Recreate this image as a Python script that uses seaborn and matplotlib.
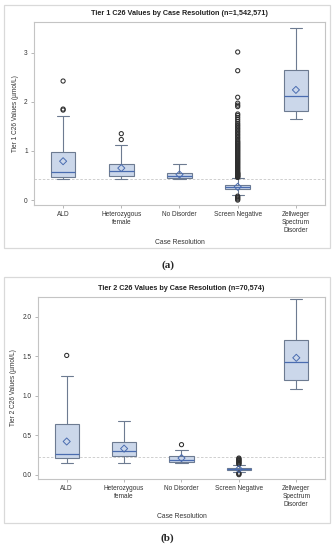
import numpy as np
import pandas as pd
import matplotlib
matplotlib.use("Agg")
import matplotlib.pyplot as plt
import seaborn as sns
from matplotlib.patches import Rectangle

# ---------------- data ----------------
categories = ["ALD", "Heterozygous female", "No Disorder", "Screen Negative",
              "Zellweger Spectrum Disorder"]
tick_labels = ["ALD", "Heterozygous\nfemale", "No Disorder", "Screen Negative",
               "Zellweger\nSpectrum\nDisorder"]

# five-number summaries: whisker low, Q1, median, Q3, whisker high
t1_ald = [0.42, 0.47, 0.57, 0.98, 1.71]
t1_het = [0.42, 0.49, 0.59, 0.74, 1.11]
t1_nod = [0.42, 0.44, 0.49, 0.56, 0.74]
t1_sn = [0.10, 0.22, 0.26, 0.30, 0.44]
t1_zsd = [1.65, 1.82, 2.12, 2.64, 3.50]
t1_means = [0.79, 0.65, 0.52, 0.27, 2.24]
t1_cutoff = 0.42

t1_out_ald = [1.83, 1.85, 2.42]
t1_out_het = [1.23, 1.35]
t1_out_sn = [0.00, 0.02, 0.04, 0.06, 0.08,
             0.46, 0.47, 0.48, 0.49, 0.50, 0.51, 0.52, 0.53, 0.54, 0.55, 0.56,
             0.58, 0.60, 0.62, 0.64, 0.66,
             0.68, 0.70, 0.72, 0.74, 0.76, 0.78, 0.80, 0.82, 0.84, 0.86, 0.88,
             0.90, 0.92, 0.94, 0.96, 0.98, 1.00, 1.02, 1.04, 1.06, 1.08, 1.10,
             1.12, 1.14, 1.16, 1.18, 1.20, 1.23, 1.26, 1.29, 1.32, 1.35, 1.38,
             1.41, 1.44, 1.47, 1.50, 1.53, 1.56, 1.60, 1.64, 1.68, 1.72, 1.75,
             1.90, 1.93, 1.97, 2.09, 2.63, 3.01]

t2_ald = [0.15, 0.21, 0.26, 0.64, 1.25]
t2_het = [0.15, 0.23, 0.30, 0.41, 0.68]
t2_nod = [0.15, 0.16, 0.19, 0.24, 0.31]
t2_sn = [0.03, 0.06, 0.07, 0.08, 0.12]
t2_zsd = [1.08, 1.20, 1.43, 1.70, 2.22]
t2_means = [0.42, 0.33, 0.21, 0.07, 1.48]
t2_cutoff = 0.22

t2_out_ald = [1.51]
t2_out_nod = [0.38]
t2_out_sn = [0.00, 0.01, 0.02, 0.13, 0.14, 0.15, 0.16, 0.17, 0.18, 0.19,
             0.20, 0.21]

titles = ["Tier 1 C26 Values by Case Resolution (n=1,542,571)",
          "Tier 2 C26 Values by Case Resolution (n=70,574)"]
ylabels = ["Tier 1 C26 Values (\u00b5mol/L)", "Tier 2 C26 Values (\u00b5mol/L)"]
yticks_a = [0, 1, 2, 3]
yticks_b = [0.0, 0.5, 1.0, 1.5, 2.0]

# ---------------- styling ----------------
sns.set_style("white")
plt.rcParams["font.family"] = ["Liberation Sans", "DejaVu Sans"]

FILL = "#cbd7ea"
EDGE = "#6d7b91"
MED = "#4a6cb0"
OUTC = "#2e2e2e"
SPINE = "#c4c4c4"


def long_df(summaries):
    cats, vals = [], []
    for c, s in zip(categories, summaries):
        cats += [c] * len(s)
        vals += list(s)
    return pd.DataFrame({"cat": cats, "val": vals})


def out_df(pairs):
    cats, vals = [], []
    for c, s in pairs:
        cats += [c] * len(s)
        vals += list(s)
    return pd.DataFrame({"cat": cats, "val": vals})


def hollow_new(ax, n_before):
    for coll in ax.collections[n_before:]:
        coll.set_facecolor("none")


def draw(ax, summaries, means, outliers, cutoff, ylim, yticks, yfmt, title, ylabel):
    ax.axhline(cutoff, color="#c8c8c8", lw=0.6, ls=(0, (3, 2)), zorder=0)
    sns.boxplot(data=long_df(summaries), x="cat", y="val", order=categories,
                whis=(0, 100), width=0.42, color=FILL, saturation=1,
                linecolor=EDGE, linewidth=0.8, ax=ax,
                medianprops={"color": MED, "linewidth": 0.9})
    n0 = len(ax.collections)
    sns.stripplot(data=out_df(outliers), x="cat", y="val", order=categories,
                  jitter=False, marker="o", size=3.0, color=OUTC,
                  linewidth=0.75, edgecolor=OUTC, ax=ax, zorder=3)
    hollow_new(ax, n0)
    n1 = len(ax.collections)
    mdf = pd.DataFrame({"cat": categories, "val": means})
    sns.stripplot(data=mdf, x="cat", y="val", order=categories, jitter=False,
                  marker="D", size=3.6, color=MED, linewidth=0.7,
                  edgecolor=MED, ax=ax, zorder=4)
    hollow_new(ax, n1)

    ax.set_xlim(-0.5, 4.5)
    ax.set_ylim(*ylim)
    ax.set_yticks(yticks)
    ax.set_yticklabels([yfmt.format(v) for v in yticks])
    ax.set_xticks(range(len(categories)))
    ax.set_xticklabels(tick_labels, linespacing=1.15)
    ax.tick_params(axis="both", labelsize=4.7, colors="#333333", length=2.5,
                   width=0.5, pad=2, direction="out", bottom=True, left=True)
    ax.tick_params(axis="both", color="#9a9a9a")
    for s in ax.spines.values():
        s.set_color(SPINE)
        s.set_linewidth(0.8)
    ax.set_xlabel("Case Resolution", fontsize=4.9, color="#333333", labelpad=4)
    ax.set_ylabel(ylabel, fontsize=4.7, color="#333333", labelpad=4)
    ax.set_title(title, fontsize=5.2, fontweight="bold", color="#222222", pad=5)


fig = plt.figure(figsize=(3.35, 5.5), dpi=100)
fig.patch.set_facecolor("white")

fig.add_artist(Rectangle((4 / 335, 1 - 248 / 550), 326 / 335, 243 / 550,
                         transform=fig.transFigure, fill=False,
                         edgecolor="#d9d9d9", lw=0.9))
fig.add_artist(Rectangle((4 / 335, 1 - 523 / 550), 326 / 335, 246 / 550,
                         transform=fig.transFigure, fill=False,
                         edgecolor="#d9d9d9", lw=0.9))

ax1 = fig.add_axes([34 / 335, 1 - 205 / 550, 291 / 335, 183 / 550])
ax2 = fig.add_axes([38 / 335, 1 - 479 / 550, 287 / 335, 182 / 550])

draw(ax1, [t1_ald, t1_het, t1_nod, t1_sn, t1_zsd], t1_means,
     [("ALD", t1_out_ald), ("Heterozygous female", t1_out_het),
      ("Screen Negative", t1_out_sn)],
     t1_cutoff, (-0.1, 3.62), yticks_a, "{:.0f}", titles[0], ylabels[0])
draw(ax2, [t2_ald, t2_het, t2_nod, t2_sn, t2_zsd], t2_means,
     [("ALD", t2_out_ald), ("No Disorder", t2_out_nod),
      ("Screen Negative", t2_out_sn)],
     t2_cutoff, (-0.055, 2.25), yticks_b, "{:.1f}", titles[1], ylabels[1])

fig.text(0.5, 1 - 265 / 550, "(a)", ha="center", va="center", fontsize=8,
         fontweight="bold", family=["Liberation Serif", "DejaVu Serif"])
fig.text(0.5, 1 - 538 / 550, "(b)", ha="center", va="center", fontsize=8,
         fontweight="bold", family=["Liberation Serif", "DejaVu Serif"])

fig.savefig("out.png", dpi=100)
